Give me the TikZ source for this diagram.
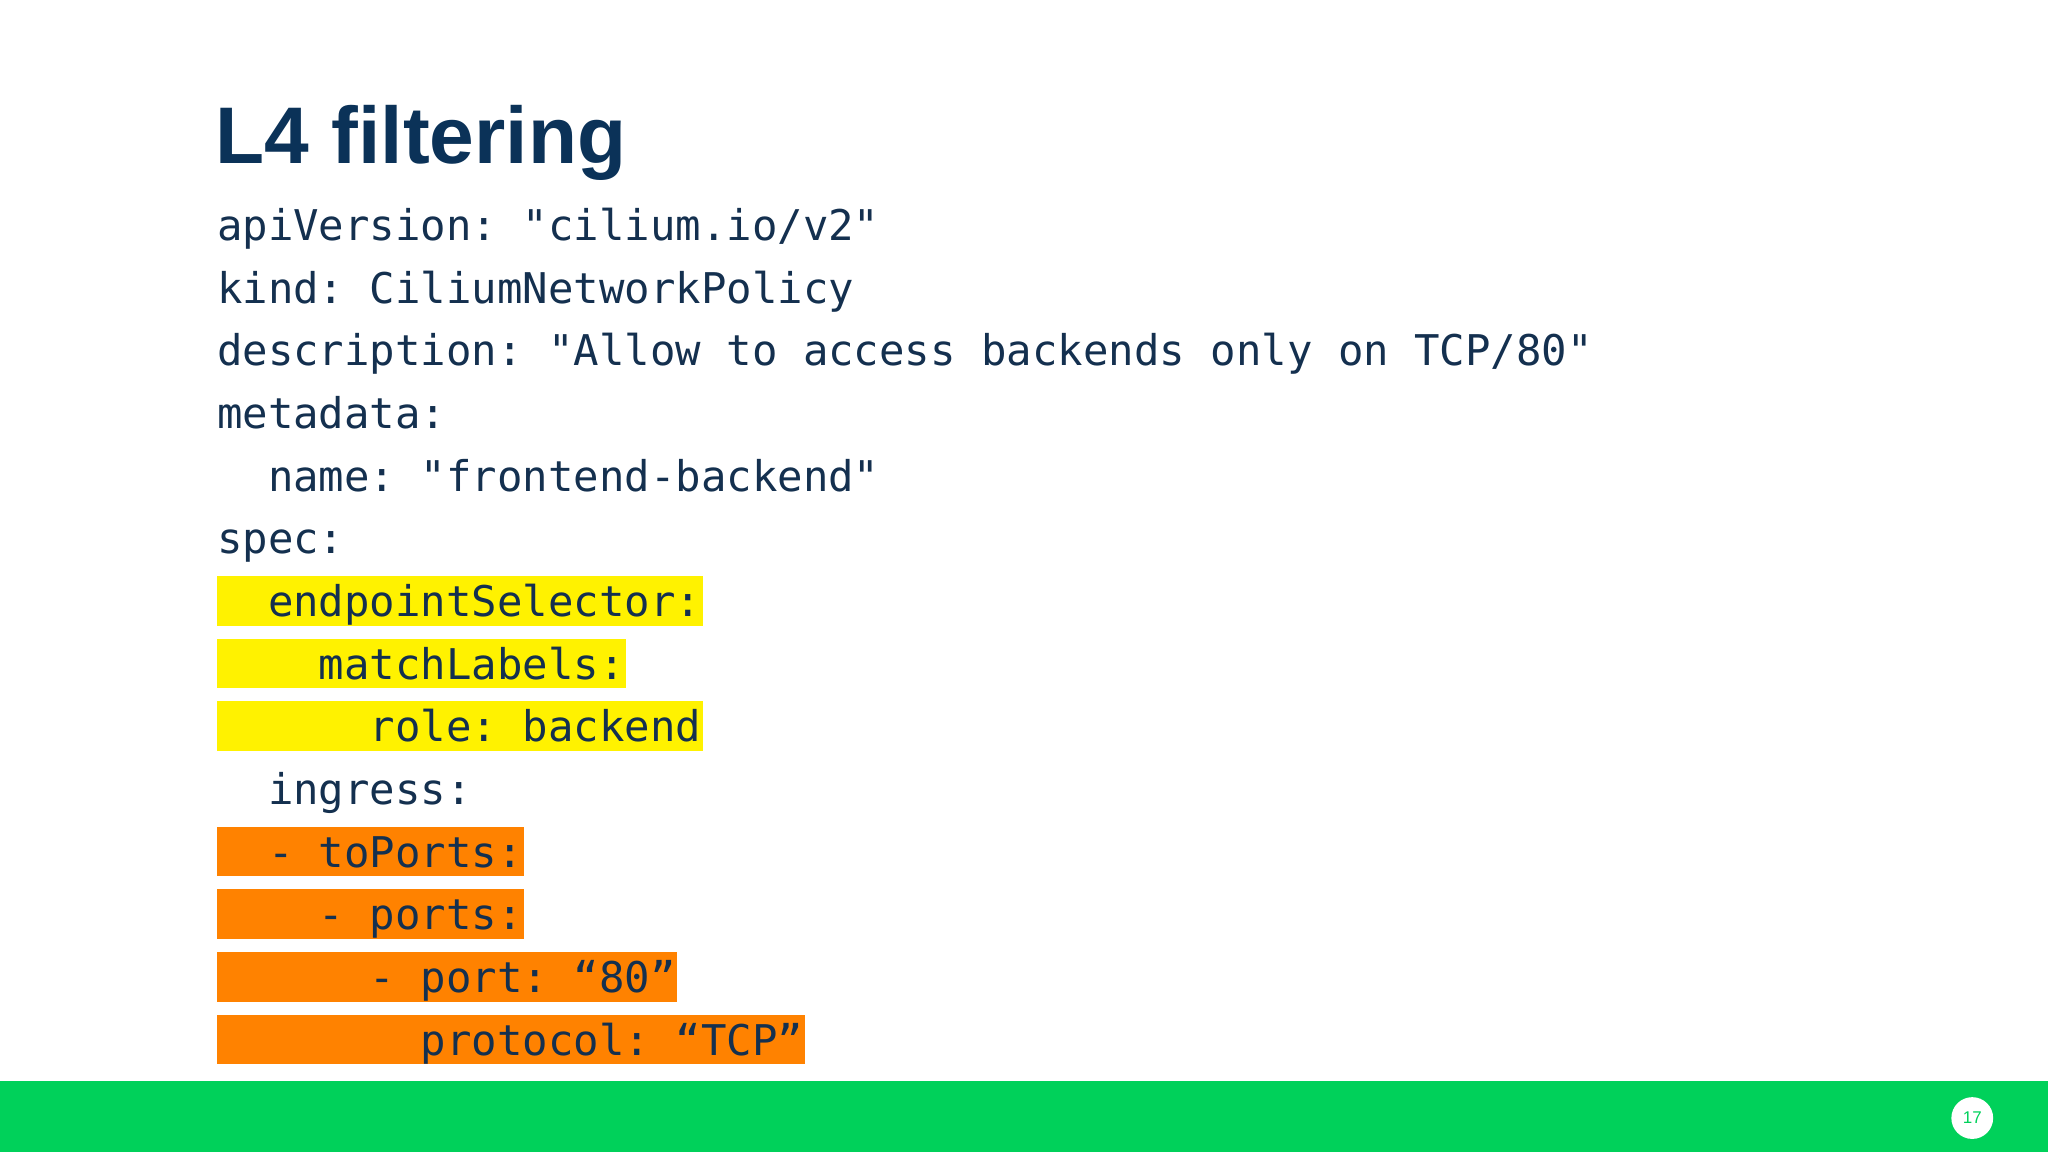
\documentclass[tikz,border=0pt]{standalone}
\usepackage{fontspec}
\setmainfont{Liberation Sans}
\setmonofont{DejaVu Sans Mono}
\definecolor{navy}{HTML}{0B3258}
\definecolor{codec}{HTML}{14304F}
\definecolor{hlyel}{HTML}{FFF200}
\definecolor{hlora}{HTML}{FF8200}
\definecolor{barg}{HTML}{00D15A}
\tikzset{codeline/.style={anchor=base west,inner sep=0pt,text=codec,font=\fontsize{32.4}{36}\ttfamily}}
\newcommand{\ind}[1]{\hspace*{#1\dimexpr 19.5pt\relax}}
\begin{document}
\begin{tikzpicture}[x=1pt,y=1pt]
\useasboundingbox (0,0) rectangle (1568,-882);
\fill[white] (0,0) rectangle (1568,-882);
% highlights
\fill[hlyel] (166,-441) rectangle (538,-479);
\fill[hlyel] (166,-489) rectangle (479,-527);
\fill[hlyel] (166,-537) rectangle (538,-575);
\fill[hlora] (166,-633) rectangle (401,-671);
\fill[hlora] (166,-681) rectangle (401,-719);
\fill[hlora] (166,-729) rectangle (518,-767);
\fill[hlora] (166,-777) rectangle (616,-815);
\node[anchor=base west,inner sep=0pt,text=navy,font=\fontsize{61.5}{66}\bfseries\selectfont] (title) at (165,-125) {L4 filtering};
\node[codeline] (l1) at (166,-184) {apiVersion: "cilium.io/v2"};
\node[codeline] (l2) at (166,-232) {kind: CiliumNetworkPolicy};
\node[codeline] (l3) at (166,-280) {description: "Allow to access backends only on TCP/80"};
\node[codeline] (l4) at (166,-328) {metadata:};
\node[codeline] (l5) at (166,-376) {\ind{2}name: "frontend-backend"};
\node[codeline] (l6) at (166,-424) {spec:};
\node[codeline] (l7) at (166,-472) {\ind{2}endpointSelector:};
\node[codeline] (l8) at (166,-520) {\ind{4}matchLabels:};
\node[codeline] (l9) at (166,-568) {\ind{6}role: backend};
\node[codeline] (l10) at (166,-616) {\ind{2}ingress:};
\node[codeline] (l11) at (166,-664) {\ind{2}- toPorts:};
\node[codeline] (l12) at (166,-712) {\ind{4}- ports:};
\node[codeline] (l13) at (166,-760) {\ind{6}- port: “80”};
\node[codeline] (l14) at (166,-808) {\ind{8}protocol: “TCP”};
% footer
\fill[barg] (0,-828) rectangle (1568,-882);
\node[circle,fill=white,minimum size=32pt,inner sep=0pt,text=barg,font=\fontsize{13}{15}\selectfont] (pg) at (1510,-856) {17};
\end{tikzpicture}
\end{document}
